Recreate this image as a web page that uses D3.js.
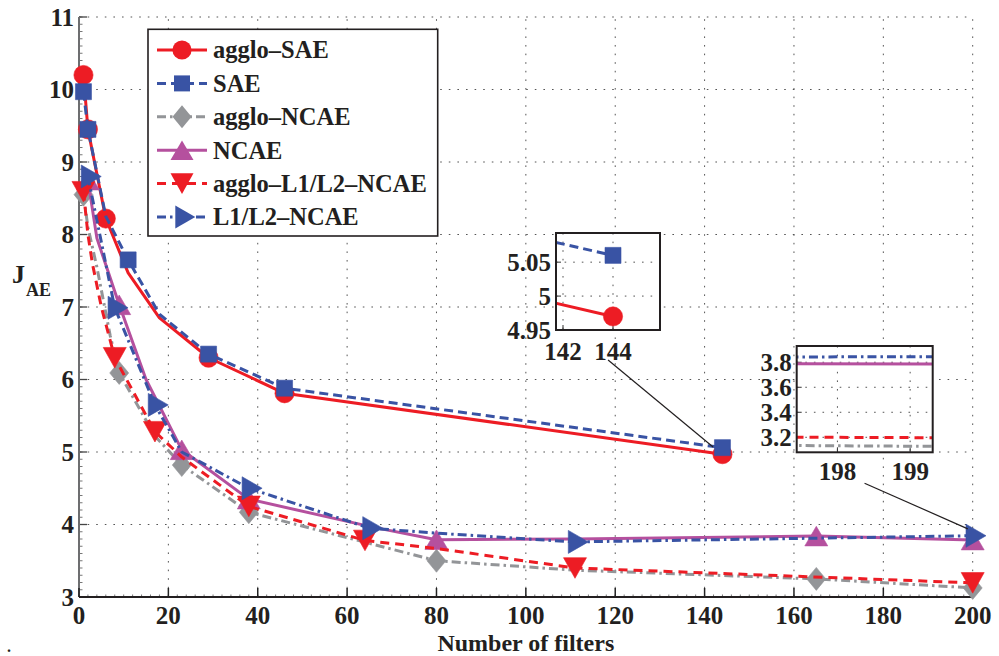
<!DOCTYPE html>
<html>
<head>
<meta charset="utf-8">
<script src="https://cdn.jsdelivr.net/npm/d3@7"></script>
<style>
  html, body { margin: 0; padding: 0; background: #fff; }
  svg { display: block; }
  text { font-family: "Liberation Serif", "Times New Roman", serif; font-weight: bold; fill: #231f20; }
</style>
</head>
<body>
<svg id="chart" width="999" height="656"></svg>
<script>
// ---- data -------------------------------------------------------------
const xTicks = [0, 20, 40, 60, 80, 100, 120, 140, 160, 180, 200];
const yTicks = [3, 4, 5, 6, 7, 8, 9, 10, 11];

const aggloSaeX = [1, 2, 6, 11, 18, 29, 46, 144];
const aggloSaeY = [10.2, 9.45, 8.22, 7.47, 6.85, 6.3, 5.81, 4.97];
const aggloSaeMarks = [1, 2, 6, 29, 46, 144];

const saeX = [1, 2, 6, 11, 18, 29, 46, 144];
const saeY = [9.97, 9.45, 8.25, 7.65, 6.9, 6.35, 5.88, 5.06];
const saeMarks = [1, 2, 11, 29, 46, 144];

const aggloNcaeX = [1, 2, 4, 7, 9, 17, 23, 38, 80, 111, 165, 200];
const aggloNcaeY = [8.55, 8.1, 7.55, 6.6, 6.09, 5.22, 4.82, 4.17, 3.5, 3.37, 3.25, 3.125];
const aggloNcaeMarks = [1, 9, 23, 38, 80, 165, 200];

const ncaeX = [2, 4, 9, 15, 23, 38, 66, 80, 111, 165, 200];
const ncaeY = [8.75, 7.95, 7.03, 6.0, 5.03, 4.35, 3.96, 3.79, 3.8, 3.84, 3.785];
const ncaeMarks = [2, 9, 23, 38, 80, 165, 200];

const aggloL1L2X = [1, 2, 3, 5, 8, 17, 23, 38, 64, 80, 111, 200];
const aggloL1L2Y = [8.59, 8.0, 7.6, 7.0, 6.3, 5.28, 4.93, 4.25, 3.78, 3.67, 3.4, 3.195];
const aggloL1L2Marks = [1, 8, 17, 38, 64, 111, 200];

const l1l2X = [2, 8, 17, 23, 38, 65, 80, 111, 200];
const l1l2Y = [8.8, 6.99, 5.65, 5.0, 4.5, 3.95, 3.88, 3.76, 3.845];
const l1l2Marks = [2, 8, 17, 38, 65, 111, 200];

const seriesNames = ["agglo\u2013SAE", "SAE", "agglo\u2013NCAE", "NCAE", "agglo\u2013L1/L2\u2013NCAE", "L1/L2\u2013NCAE"];

// zoom boxes: data window shown in each
const zoom1XDomain = [141.72, 145.88], zoom1YDomain = [4.95, 5.093];
const zoom1XTicks = [142, 144], zoom1YTicks = [4.95, 5, 5.05];
const zoom2XDomain = [197.44, 199.31], zoom2YDomain = [3.08, 3.93];
const zoom2XTicks = [198, 199], zoom2YTicks = [3.2, 3.4, 3.6, 3.8];

// connector lines from each zoom box down to the zoomed spot (main-axis data units)
const connector1 = [[118.4, 6.27], [141.9, 5.07]];
const connector2 = [[175.8, 4.57], [198.9, 3.94]];

// ---- styles -----------------------------------------------------------
const RED = "#ed1c24", BLUE = "#3953a4", GRAY = "#939598", MAGENTA = "#b5509e";
const styles = [
  { color: RED,     dash: null,        marker: "circle" },
  { color: BLUE,    dash: "9,5",       marker: "square" },
  { color: GRAY,    dash: "9,4,2.5,4", marker: "diamond" },
  { color: MAGENTA, dash: null,        marker: "triUp" },
  { color: RED,     dash: "9,6",       marker: "triDown" },
  { color: BLUE,    dash: "9,4,2.5,4", marker: "triRight" }
];

const series = [
  [aggloSaeX, aggloSaeY, aggloSaeMarks],
  [saeX, saeY, saeMarks],
  [aggloNcaeX, aggloNcaeY, aggloNcaeMarks],
  [ncaeX, ncaeY, ncaeMarks],
  [aggloL1L2X, aggloL1L2Y, aggloL1L2Marks],
  [l1l2X, l1l2Y, l1l2Marks]
].map(([xs, ys, marks], i) => ({
  name: seriesNames[i],
  points: xs.map((x, j) => ({ x, y: ys[j] })),
  marks: marks.map(m => ({ x: m, y: ys[xs.indexOf(m)] })),
  ...styles[i]
}));

function markerPath(kind) {
  switch (kind) {
    case "circle":  return "M9.6,0A9.6,9.6 0 1,1 -9.6,0A9.6,9.6 0 1,1 9.6,0Z";
    case "square":  return "M-8,-8H8V8H-8Z";
    case "diamond": return "M0,-11.5L9.5,0L0,11.5L-9.5,0Z";
    case "triUp":   return "M0,-9.8L11.5,9.8L-11.5,9.8Z";
    case "triDown": return "M0,10.3L11.5,-10.3L-11.5,-10.3Z";
    case "triRight":return "M13.3,0L-6.7,-11.5L-6.7,11.5Z";
  }
}

// ---- main axes --------------------------------------------------------
const svg = d3.select("#chart");
svg.append("rect").attr("width", 999).attr("height", 656).attr("fill", "#fff");

const X0 = 79, X1 = 972.7, Y0 = 597, Y1 = 17;
const x = d3.scaleLinear().domain([0, 200]).range([X0, X1]);
const y = d3.scaleLinear().domain([3, 11]).range([Y0, Y1]);

const gridDash = "1.6,7";
const grid = svg.append("g");
grid.selectAll("line.gy").data(yTicks.filter(t => t > 3)).join("line")
  .attr("x1", X0).attr("x2", X1).attr("y1", d => y(d)).attr("y2", d => y(d))
  .attr("stroke", "#555").attr("stroke-width", 1).attr("stroke-dasharray", gridDash);
grid.selectAll("line.gx").data(xTicks.filter(t => t > 0)).join("line")
  .attr("y1", Y0).attr("y2", Y1).attr("x1", d => x(d)).attr("x2", d => x(d))
  .attr("stroke", "#555").attr("stroke-width", 1).attr("stroke-dasharray", gridDash);

// left axis (gray with fine minor ticks) and bottom axis (black)
const axisG = svg.append("g");
const yMinor = d3.range(30, 111).map(v => v / 10);
axisG.selectAll("line.ym").data(yMinor).join("line")
  .attr("x1", X0).attr("x2", X0 + 3.5).attr("y1", d => y(d)).attr("y2", d => y(d))
  .attr("stroke", "#777").attr("stroke-width", 1);
axisG.selectAll("line.yM").data(yTicks).join("line")
  .attr("x1", X0).attr("x2", X0 + 8).attr("y1", d => y(d)).attr("y2", d => y(d))
  .attr("stroke", "#444").attr("stroke-width", 1.3);
axisG.append("line").attr("x1", X0).attr("x2", X0).attr("y1", Y0).attr("y2", Y1)
  .attr("stroke", "#6d6e70").attr("stroke-width", 2);
const xMinor = d3.range(0, 201, 2);
axisG.selectAll("line.xm").data(xMinor).join("line")
  .attr("x1", d => x(d)).attr("x2", d => x(d)).attr("y1", Y0).attr("y2", Y0 - 2.5)
  .attr("stroke", "#555").attr("stroke-width", 0.8);
axisG.selectAll("line.xM").data(xTicks).join("line")
  .attr("x1", d => x(d)).attr("x2", d => x(d)).attr("y1", Y0).attr("y2", Y0 - 9)
  .attr("stroke", "#222").attr("stroke-width", 1.5);
axisG.append("line").attr("x1", X0).attr("x2", X1).attr("y1", Y0).attr("y2", Y0)
  .attr("stroke", "#231f20").attr("stroke-width", 2);

// tick labels
svg.append("g").selectAll("text").data(yTicks).join("text")
  .attr("x", X0 - 5).attr("y", d => y(d) + 8.5).attr("text-anchor", "end")
  .attr("font-size", 25).text(d => d3.format("d")(d));
svg.append("g").selectAll("text").data(xTicks).join("text")
  .attr("x", d => x(d)).attr("y", 624).attr("text-anchor", "middle")
  .attr("font-size", 25).text(d => d3.format("d")(d));

// axis titles
svg.append("text").attr("x", (X0 + X1) / 2).attr("y", 650.5).attr("text-anchor", "middle")
  .attr("font-size", 24).text("Number of filters");
const yl = svg.append("text").attr("x", 12).attr("y", 283).attr("font-size", 26);
yl.append("tspan").text("J");
yl.append("tspan").attr("font-size", 18).attr("dy", 13).attr("dx", 1).text("AE");
svg.append("text").attr("x", 7).attr("y", 651.5).attr("font-size", 16).text(".");

// ---- series -----------------------------------------------------------
function drawSeries(g, xs, ys, s, clipId) {
  const line = d3.line().x(d => xs(d.x)).y(d => ys(d.y));
  const gg = g.append("g");
  if (clipId) gg.attr("clip-path", `url(#${clipId})`);
  gg.append("path").attr("d", line(s.points)).attr("fill", "none")
    .attr("stroke", s.color).attr("stroke-width", 3)
    .attr("stroke-linejoin", "round")
    .attr("stroke-dasharray", s.dash);
  gg.selectAll("path.m").data(s.marks).join("path")
    .attr("d", markerPath(s.marker))
    .attr("transform", d => `translate(${xs(d.x)},${ys(d.y)})`)
    .attr("fill", s.color).attr("stroke", s.color).attr("stroke-width", 0.6);
}
const plotG = svg.append("g");
series.forEach(s => drawSeries(plotG, x, y, s, null));

// ---- legend -----------------------------------------------------------
const LX = 148, LY = 29.3, LW = 289.7, LH = 206.7;
const leg = svg.append("g");
leg.append("rect").attr("x", LX).attr("y", LY).attr("width", LW).attr("height", LH)
  .attr("fill", "#fff").attr("stroke", "#231f20").attr("stroke-width", 1.6);
series.forEach((s, i) => {
  const cy = 50 + i * 33.4;
  leg.append("line").attr("x1", 157).attr("x2", 207).attr("y1", cy).attr("y2", cy)
    .attr("stroke", s.color).attr("stroke-width", 3).attr("stroke-dasharray", s.dash);
  leg.append("path").attr("d", markerPath(s.marker))
    .attr("transform", `translate(182,${cy})`).attr("fill", s.color);
  leg.append("text").attr("x", 213).attr("y", cy + 8.4).attr("font-size", 24.5).text(s.name);
});

// ---- zoom boxes -------------------------------------------------------
function zoomBox(id, bx, by, bw, bh, xd, yd, xt, yt, xLabelOffset) {
  const zx = d3.scaleLinear().domain(xd).range([bx, bx + bw]);
  const zy = d3.scaleLinear().domain(yd).range([by + bh, by]);
  const g = svg.append("g");
  g.append("clipPath").attr("id", id).append("rect")
    .attr("x", bx).attr("y", by).attr("width", bw).attr("height", bh);
  g.append("rect").attr("x", bx).attr("y", by).attr("width", bw).attr("height", bh).attr("fill", "#fff");
  g.selectAll("line.gy").data(yt.filter(t => zy(t) > by + 2 && zy(t) < by + bh - 2)).join("line")
    .attr("x1", bx).attr("x2", bx + bw).attr("y1", d => zy(d)).attr("y2", d => zy(d))
    .attr("stroke", "#555").attr("stroke-width", 1).attr("stroke-dasharray", gridDash);
  g.selectAll("line.gx").data(xt).join("line")
    .attr("y1", by).attr("y2", by + bh).attr("x1", d => zx(d)).attr("x2", d => zx(d))
    .attr("stroke", "#555").attr("stroke-width", 1).attr("stroke-dasharray", gridDash);
  g.selectAll("line.ty").data(yt).join("line")
    .attr("x1", bx).attr("x2", bx + 5).attr("y1", d => zy(d)).attr("y2", d => zy(d))
    .attr("stroke", "#333").attr("stroke-width", 1);
  g.selectAll("line.tx").data(xt).join("line")
    .attr("x1", d => zx(d)).attr("x2", d => zx(d)).attr("y1", by + bh).attr("y2", by + bh - 5)
    .attr("stroke", "#333").attr("stroke-width", 1);
  series.forEach(s => drawSeries(g, zx, zy, s, id));
  g.append("rect").attr("x", bx).attr("y", by).attr("width", bw).attr("height", bh)
    .attr("fill", "none").attr("stroke", "#231f20").attr("stroke-width", 2);
  g.selectAll("text.ly").data(yt).join("text")
    .attr("x", bx - 5).attr("y", d => zy(d) + 8.5).attr("text-anchor", "end")
    .attr("font-size", 25).text(d => String(d));
  g.selectAll("text.lx").data(xt).join("text")
    .attr("x", d => zx(d)).attr("y", by + bh + xLabelOffset).attr("text-anchor", "middle")
    .attr("font-size", 25).text(d => String(d));
}

function connector(pts) {
  svg.append("line")
    .attr("x1", x(pts[0][0])).attr("y1", y(pts[0][1]))
    .attr("x2", x(pts[1][0])).attr("y2", y(pts[1][1]))
    .attr("stroke", "#231f20").attr("stroke-width", 1.2);
}
connector(connector1);
connector(connector2);

zoomBox("zoomA", 556, 233, 104, 97, zoom1XDomain, zoom1YDomain, zoom1XTicks, zoom1YTicks, 30);
zoomBox("zoomB", 796.7, 346, 136, 106.3, zoom2XDomain, zoom2YDomain, zoom2XTicks, zoom2YTicks, 28);
</script>
</body>
</html>
